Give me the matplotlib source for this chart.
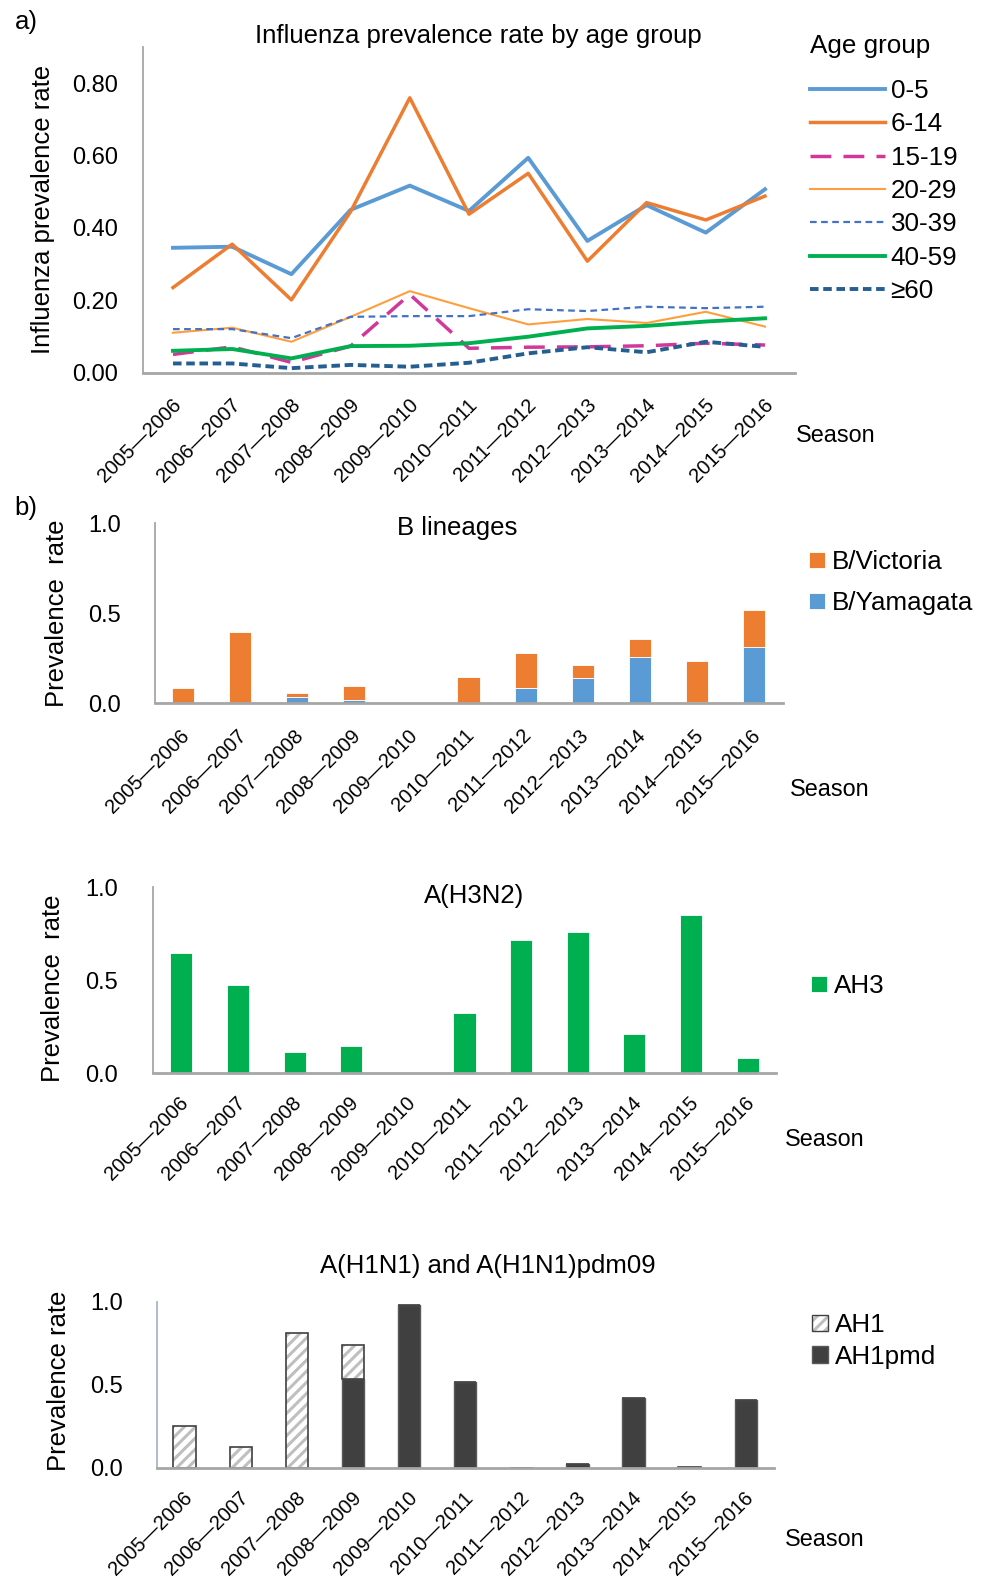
import numpy as np
import matplotlib
matplotlib.use('Agg')
import matplotlib.pyplot as plt
from matplotlib.patches import Patch
from matplotlib.legend_handler import HandlerTuple
from matplotlib.transforms import ScaledTranslation

plt.rcParams['font.family'] = ['Liberation Sans', 'DejaVu Sans']
plt.rcParams['hatch.color'] = '#BFBFBF'
plt.rcParams['hatch.linewidth'] = 2.2

seasons = ['2005\u20142006', '2006\u20142007', '2007\u20142008', '2008\u20142009',
           '2009\u20142010', '2010\u20142011', '2011\u20142012', '2012\u20142013',
           '2013\u20142014', '2014\u20142015', '2015\u20142016']

# a) prevalence by age group
rate_0_5 = [0.345, 0.348, 0.272, 0.450, 0.517, 0.447, 0.594, 0.364, 0.463, 0.387, 0.507]
rate_6_14 = [0.235, 0.355, 0.201, 0.445, 0.760, 0.438, 0.551, 0.308, 0.470, 0.422, 0.488]
rate_15_19 = [0.050, 0.071, 0.028, 0.073, 0.216, 0.067, 0.070, 0.071, 0.074, 0.081, 0.076]
rate_20_29 = [0.110, 0.124, 0.085, 0.154, 0.225, 0.178, 0.133, 0.148, 0.137, 0.168, 0.127]
rate_30_39 = [0.120, 0.120, 0.095, 0.154, 0.156, 0.156, 0.175, 0.170, 0.182, 0.178, 0.182]
rate_40_59 = [0.060, 0.065, 0.039, 0.073, 0.074, 0.081, 0.099, 0.122, 0.129, 0.141, 0.150]
rate_60 = [0.025, 0.025, 0.012, 0.021, 0.016, 0.027, 0.053, 0.070, 0.056, 0.085, 0.071]

# b) B lineages
b_yamagata = [0.0, 0.0, 0.037, 0.017, 0.0, 0.0, 0.087, 0.142, 0.256, 0.006, 0.311]
b_victoria = [0.087, 0.394, 0.019, 0.081, 0.0, 0.146, 0.192, 0.071, 0.101, 0.227, 0.207]

# c) A(H3N2)
ah3 = [0.645, 0.475, 0.116, 0.147, 0.007, 0.323, 0.717, 0.758, 0.213, 0.851, 0.084]

# d) A(H1N1) and A(H1N1)pdm09
ah1pmd = [0.0, 0.0, 0.0, 0.537, 0.980, 0.519, 0.0, 0.020, 0.418, 0.0, 0.406]
ah1 = [0.253, 0.122, 0.815, 0.203, 0.0, 0.0, 0.0, 0.0, 0.0, 0.005, 0.0]

W, H = 981, 1578
fig = plt.figure(figsize=(W / 100, H / 100), dpi=100)

TICK_FS = 17
TITLE_FS = 18.5
LEG_FS = 18.7
SEASON_FS = 16.8


def rect(x0, x1, y_top, y_bot):
    return [x0 / W, 1 - y_bot / H, (x1 - x0) / W, (y_bot - y_top) / H]


def fpos(x, y):
    return x / W, 1 - y / H


x = np.arange(len(seasons))
grey = '#A6A6A6'


def style(ax, ylim, yticks, ylabels, ytick_pad, xlab_dx, xpad):
    ax.set_xlim(-0.5, len(seasons) - 0.5)
    ax.set_ylim(*ylim)
    for s in ['top', 'right']:
        ax.spines[s].set_visible(False)
    ax.spines['left'].set_color(grey)
    ax.spines['bottom'].set_color(grey)
    ax.spines['left'].set_linewidth(1.3)
    ax.spines['bottom'].set_linewidth(2)
    ax.set_yticks(yticks, ylabels)
    ax.set_xticks(x, seasons)
    ax.tick_params(axis='y', length=0, pad=ytick_pad, labelsize=TICK_FS)
    ax.tick_params(axis='x', length=0, pad=xpad, labelsize=14.5)
    for lab in ax.get_xticklabels():
        lab.set_rotation(45)
        lab.set_ha('right')
        lab.set_va('center')
        lab.set_rotation_mode('anchor')
        lab.set_transform(lab.get_transform() + ScaledTranslation(xlab_dx / 100, 0, fig.dpi_scale_trans))


def square_legend(handles, labels, top_left, spacing, **kw):
    return fig.legend(handles, labels, loc='upper left', bbox_to_anchor=fpos(*top_left),
                      frameon=False, fontsize=LEG_FS, handlelength=0.6, handleheight=0.6,
                      handletextpad=0.3, labelspacing=spacing, borderaxespad=0, borderpad=0, **kw)


# ---------- a) ----------
ax1 = fig.add_axes(rect(143.4, 794.6, 47.2, 372.5))
ax1.plot(x, rate_0_5, color='#5B9BD5', lw=2.8, label='0-5')
ax1.plot(x, rate_6_14, color='#ED7D31', lw=2.5, label='6-14')
ax1.plot(x, rate_15_19, color='#D2389A', lw=2.5, dashes=(6, 3.5), label='15-19')
ax1.plot(x, rate_20_29, color='#FF9E3D', lw=1.5, label='20-29')
ax1.plot(x, rate_30_39, color='#4472C4', lw=1.6, dashes=(3, 2), label='30-39')
ax1.plot(x, rate_40_59, color='#00B050', lw=2.8, label='40-59')
ax1.plot(x, rate_60, color='#255E91', lw=2.8, dashes=(2.2, 1.2), label='\u226560')
style(ax1, (0, 0.9), [0, 0.2, 0.4, 0.6, 0.8], ['0.00', '0.20', '0.40', '0.60', '0.80'], 18.3, 5.5, 21)
ax1.text(0.515, 1.034, 'Influenza prevalence rate by age group', transform=ax1.transAxes,
         fontsize=TITLE_FS, ha='center', va='center')
h, l = ax1.get_legend_handles_labels()
fig.text(*fpos(810, 46), 'Age group', fontsize=LEG_FS, ha='left', va='center')
fig.legend(h, l, loc='upper left', bbox_to_anchor=fpos(810, 79),
           frameon=False, fontsize=LEG_FS, handlelength=2.9,
           handletextpad=0.2, labelspacing=0.36, borderaxespad=0, borderpad=0)
fig.text(*fpos(836, 435), 'Season', fontsize=SEASON_FS, ha='center', va='center')
fig.text(*fpos(43, 209), 'Influenza prevalence rate', fontsize=TITLE_FS, rotation=90, ha='center', va='center')
fig.text(*fpos(26, 22), 'a)', fontsize=TITLE_FS, ha='center', va='center')

# ---------- b) ----------
ax2 = fig.add_axes(rect(154.5, 782.6, 523.3, 703.3))
ax2.bar(x, b_yamagata, width=0.39, color='#5B9BD5', edgecolor='white', linewidth=0.6, label='B/Yamagata')
ax2.bar(x, b_victoria, width=0.39, bottom=b_yamagata, color='#ED7D31', edgecolor='white', linewidth=0.6,
        label='B/Victoria')
style(ax2, (0, 1.0), [0, 0.5, 1.0], ['0.0', '0.5', '1.0'], 24, 3, 21)
ax2.text(0.4816, 0.974, 'B lineages', transform=ax2.transAxes, fontsize=TITLE_FS, ha='center', va='center')
h, l = ax2.get_legend_handles_labels()
square_legend(h[::-1], l[::-1], (809, 550), 0.66)
fig.text(*fpos(830, 789), 'Season', fontsize=SEASON_FS, ha='center', va='center')
fig.text(*fpos(57, 613), 'Prevalence  rate', fontsize=TITLE_FS, rotation=90, ha='center', va='center')
fig.text(*fpos(26, 508), 'b)', fontsize=TITLE_FS, ha='center', va='center')

# ---------- c) ----------
ax3 = fig.add_axes(rect(153, 776, 887, 1073.3))
ax3.bar(x, ah3, width=0.39, color='#00B050', edgecolor='white', linewidth=0.6, label='AH3')
style(ax3, (0, 1.0), [0, 0.5, 1.0], ['0.0', '0.5', '1.0'], 25, 4, 19)
ax3.text(0.516, 0.952, 'A(H3N2)', transform=ax3.transAxes, fontsize=TITLE_FS, ha='center', va='center')
h, l = ax3.get_legend_handles_labels()
square_legend(h, l, (811, 974), 0.6)
fig.text(*fpos(825, 1140), 'Season', fontsize=SEASON_FS, ha='center', va='center')
fig.text(*fpos(53, 988), 'Prevalence  rate', fontsize=TITLE_FS, rotation=90, ha='center', va='center')

# ---------- d) ----------
ax4 = fig.add_axes(rect(156.6, 773.8, 1302, 1467.5))
ax4.bar(x, ah1pmd, width=0.4, color='#404040', edgecolor='#595959', linewidth=1)
ax4.bar(x, ah1, width=0.4, bottom=ah1pmd, color='white', hatch='///', linewidth=0)
ax4.bar(x, ah1, width=0.4, bottom=ah1pmd, fill=False, edgecolor='#404040', linewidth=1.2)
style(ax4, (0, 1.0), [0, 0.5, 1.0], ['0.0', '0.5', '1.0'], 24, 5, 19.5)
ax4.spines['left'].set_color('#A9B5CC')
ax4.text(0.536, 1.2175, 'A(H1N1) and A(H1N1)pdm09', transform=ax4.transAxes,
         fontsize=TITLE_FS, ha='center', va='center')
ah1_handle = (Patch(facecolor='white', hatch='///', linewidth=0),
              Patch(fill=False, edgecolor='#404040', linewidth=1))
pmd_handle = Patch(facecolor='#404040', edgecolor='#595959')
square_legend([ah1_handle, pmd_handle], ['AH1', 'AH1pmd'], (812, 1313), 0.3,
              handler_map={tuple: HandlerTuple(ndivide=1, pad=0)})
fig.text(*fpos(825, 1540), 'Season', fontsize=SEASON_FS, ha='center', va='center')
fig.text(*fpos(59, 1381), 'Prevalence rate', fontsize=TITLE_FS, rotation=90, ha='center', va='center')

fig.savefig('out.png', dpi=100)
